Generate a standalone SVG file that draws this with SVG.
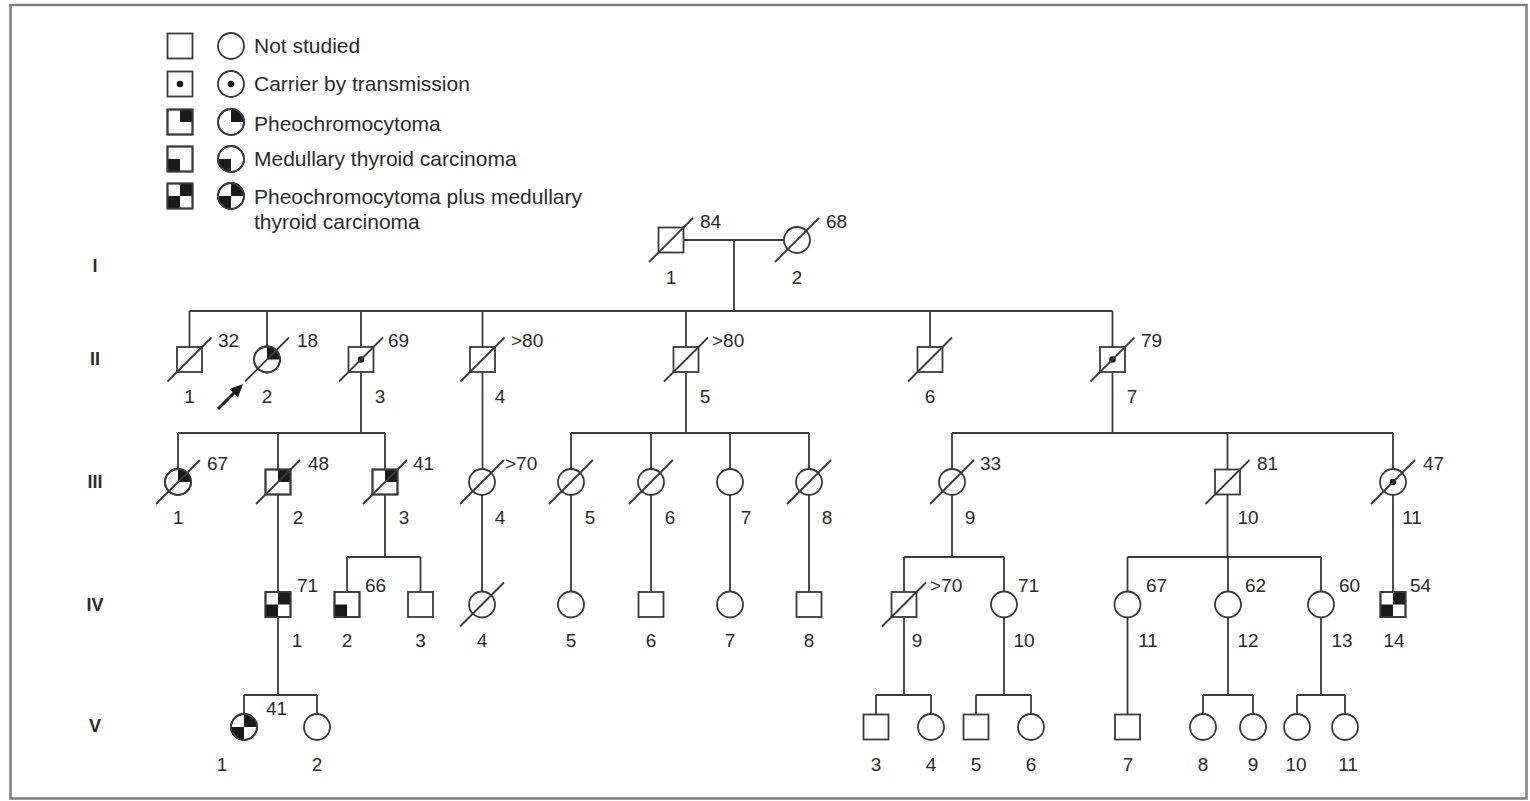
<svg xmlns="http://www.w3.org/2000/svg" width="1530" height="801" viewBox="0 0 1530 801">
<style>
.ln{fill:none;stroke:#3a3a3a;stroke-width:1.8}
.sh{fill:#fff;stroke:#3a3a3a;stroke-width:1.8}
.blk{fill:#1a1a1a;stroke:none}
.t{font-family:"Liberation Sans",Arial,sans-serif;font-size:19px;fill:#2a2a2a}
.lg{font-family:"Liberation Sans",Arial,sans-serif;font-size:21px;fill:#2a2a2a}
.gen{font-family:"Liberation Sans",Arial,sans-serif;font-size:18px;font-weight:bold;fill:#2a2a2a;text-anchor:middle}
.m{text-anchor:middle}
</style>
<defs>
<rect id="sq" x="-12.5" y="-12.5" width="25" height="25" class="sh"/>
<circle id="ci" r="13" class="sh"/>
<line id="sl" x1="-22" y1="22" x2="22" y2="-22" class="ln"/>
<circle id="dot" r="3.3" class="blk"/>
<rect id="sqTR" x="0" y="-12.5" width="12.5" height="12.5" class="blk"/>
<rect id="sqBL" x="-12.5" y="0" width="12.5" height="12.5" class="blk"/>
<path id="ciTR" d="M0,0 L0,-13 A13,13 0 0 1 13,0 Z" class="blk"/>
<path id="ciBL" d="M0,0 L0,13 A13,13 0 0 1 -13,0 Z" class="blk"/>
<rect id="sqO" x="-12.5" y="-12.5" width="25" height="25" fill="none" stroke="#3a3a3a" stroke-width="1.8"/>
<circle id="ciO" r="13" fill="none" stroke="#3a3a3a" stroke-width="1.8"/>
</defs>
<rect x="0" y="0" width="1530" height="801" fill="#fff"/>
<rect x="10.5" y="5" width="1516" height="793.5" fill="none" stroke="#808080" stroke-width="2.5"/>

<g id="legend">
<use href="#sq" x="180" y="46"/><use href="#ci" x="231" y="46"/>
<text class="lg" x="254" y="53">Not studied</text>
<use href="#sq" x="180" y="84"/><use href="#dot" x="180" y="84"/><use href="#ci" x="231" y="84"/><use href="#dot" x="231" y="84"/>
<text class="lg" x="254" y="91">Carrier by transmission</text>
<use href="#sq" x="180" y="122"/><use href="#sqTR" x="180" y="122"/><use href="#sqO" x="180" y="122"/>
<use href="#ci" x="231" y="122"/><use href="#ciTR" x="231" y="122"/><use href="#ciO" x="231" y="122"/>
<text class="lg" x="254" y="131">Pheochromocytoma</text>
<use href="#sq" x="180" y="159"/><use href="#sqBL" x="180" y="159"/><use href="#sqO" x="180" y="159"/>
<use href="#ci" x="231" y="159"/><use href="#ciBL" x="231" y="159"/><use href="#ciO" x="231" y="159"/>
<text class="lg" x="254" y="166">Medullary thyroid carcinoma</text>
<use href="#sq" x="180" y="196"/><use href="#sqTR" x="180" y="196"/><use href="#sqBL" x="180" y="196"/><use href="#sqO" x="180" y="196"/>
<use href="#ci" x="231" y="196"/><use href="#ciTR" x="231" y="196"/><use href="#ciBL" x="231" y="196"/><use href="#ciO" x="231" y="196"/>
<text class="lg" x="254" y="204">Pheochromocytoma plus medullary</text>
<text class="lg" x="254" y="229">thyroid carcinoma</text>
</g>

<g id="generations">
<text class="gen" x="95" y="272">I</text>
<text class="gen" x="95" y="365">II</text>
<text class="gen" x="95" y="488">III</text>
<text class="gen" x="95" y="611">IV</text>
<text class="gen" x="95" y="732">V</text>
</g>

<g id="connectors">
<path class="ln" d="M683.5 240 H784 M734 240 V311"/>
<path class="ln" d="M189.5 311 H1112.5 M189.5 311 V347 M267 311 V346.5 M361 311 V347 M482.5 311 V347 M686 311 V347 M930 311 V347 M1112.5 311 V347"/>
<path class="ln" d="M361 372 V433 M178 433 H385 M178 433 V469 M278 433 V469.5 M385 433 V469.5"/>
<path class="ln" d="M482.5 372 V469"/>
<path class="ln" d="M686 372 V433 M571 433 H809 M571 433 V469 M651 433 V469 M730 433 V469 M809 433 V469"/>
<path class="ln" d="M1112.5 372 V433 M952 433 H1393 M952 433 V469 M1227.5 433 V469.5 M1393 433 V469"/>
<path class="ln" d="M278 494.5 V592 M278 617 V695 M244 695 H317 M244 695 V714 M317 695 V714"/>
<path class="ln" d="M385 494.5 V557 M347 557 H420.5 M347 557 V592 M420.5 557 V592"/>
<path class="ln" d="M482 495 V591.5 M571 495 V591.5 M651 495 V592 M730 495 V591.5 M809 495 V592"/>
<path class="ln" d="M952 495 V557 M904 557 H1004 M904 557 V592 M1004 557 V591.5"/>
<path class="ln" d="M1227.5 494.5 V557 M1127.5 557 H1321 M1127.5 557 V591.5 M1228 557 V591.5 M1321 557 V591.5"/>
<path class="ln" d="M1393 495 V592"/>
<path class="ln" d="M904 617 V695 M876 695 H931 M876 695 V714.5 M931 695 V714"/>
<path class="ln" d="M1004 617.5 V695 M976 695 H1031 M976 695 V714.5 M1031 695 V714"/>
<path class="ln" d="M1127.5 617.5 V714.5"/>
<path class="ln" d="M1228 617.5 V695 M1203 695 H1253 M1203 695 V714 M1253 695 V714"/>
<path class="ln" d="M1321 617.5 V695 M1297 695 H1345 M1297 695 V714 M1345 695 V714"/>
</g>

<g id="proband-arrow">
<line x1="218" y1="409" x2="235" y2="392" stroke="#1a1a1a" stroke-width="3"/>
<polygon points="243,384 238,397.5 229.5,389" fill="#1a1a1a"/>
</g>

<g id="I-1"><use href="#sq" x="671" y="240"/><use href="#sl" x="671" y="240"/><text class="t" x="700" y="228">84</text><text class="t m" x="671" y="284">1</text></g>
<g id="I-2"><use href="#ci" x="797" y="240"/><use href="#sl" x="797" y="240"/><text class="t" x="826" y="228">68</text><text class="t m" x="797" y="284">2</text></g>

<g id="II-1"><use href="#sq" x="189.5" y="359.5"/><use href="#sl" x="189.5" y="359.5"/><text class="t" x="218" y="347">32</text><text class="t m" x="189.5" y="403">1</text></g>
<g id="II-2"><use href="#ci" x="267" y="359.5"/><use href="#ciTR" x="267" y="359.5"/><use href="#ciO" x="267" y="359.5"/><use href="#sl" x="267" y="359.5"/><text class="t" x="297" y="347">18</text><text class="t m" x="267" y="403">2</text></g>
<g id="II-3"><use href="#sq" x="361" y="359.5"/><use href="#dot" x="361" y="359.5"/><use href="#sl" x="361" y="359.5"/><text class="t" x="388" y="347">69</text><text class="t m" x="380" y="403">3</text></g>
<g id="II-4"><use href="#sq" x="482.5" y="359.5"/><use href="#sl" x="482.5" y="359.5"/><text class="t" x="511" y="347">&gt;80</text><text class="t m" x="500" y="403">4</text></g>
<g id="II-5"><use href="#sq" x="686" y="359.5"/><use href="#sl" x="686" y="359.5"/><text class="t" x="712" y="347">&gt;80</text><text class="t m" x="705" y="403">5</text></g>
<g id="II-6"><use href="#sq" x="930" y="359.5"/><use href="#sl" x="930" y="359.5"/><text class="t m" x="930" y="403">6</text></g>
<g id="II-7"><use href="#sq" x="1112.5" y="359.5"/><use href="#dot" x="1112.5" y="359.5"/><use href="#sl" x="1112.5" y="359.5"/><text class="t" x="1141" y="347">79</text><text class="t m" x="1132" y="403">7</text></g>

<g id="III-1"><use href="#ci" x="178" y="482"/><use href="#ciTR" x="178" y="482"/><use href="#ciO" x="178" y="482"/><use href="#sl" x="178" y="482"/><text class="t" x="207" y="470">67</text><text class="t m" x="178" y="524">1</text></g>
<g id="III-2"><use href="#sq" x="278" y="482"/><use href="#sqTR" x="278" y="482"/><use href="#sqO" x="278" y="482"/><use href="#sl" x="278" y="482"/><text class="t" x="308" y="470">48</text><text class="t m" x="298" y="524">2</text></g>
<g id="III-3"><use href="#sq" x="385" y="482"/><use href="#sqTR" x="385" y="482"/><use href="#sqO" x="385" y="482"/><use href="#sl" x="385" y="482"/><text class="t" x="413" y="470">41</text><text class="t m" x="404" y="524">3</text></g>
<g id="III-4"><use href="#ci" x="482" y="482"/><use href="#sl" x="482" y="482"/><text class="t" x="505" y="470">&gt;70</text><text class="t m" x="500" y="524">4</text></g>
<g id="III-5"><use href="#ci" x="571" y="482"/><use href="#sl" x="571" y="482"/><text class="t m" x="590" y="524">5</text></g>
<g id="III-6"><use href="#ci" x="651" y="482"/><use href="#sl" x="651" y="482"/><text class="t m" x="670" y="524">6</text></g>
<g id="III-7"><use href="#ci" x="730" y="482"/><text class="t m" x="746" y="524">7</text></g>
<g id="III-8"><use href="#ci" x="809" y="482"/><use href="#sl" x="809" y="482"/><text class="t m" x="827" y="524">8</text></g>
<g id="III-9"><use href="#ci" x="952" y="482"/><use href="#sl" x="952" y="482"/><text class="t" x="980" y="470">33</text><text class="t m" x="970" y="524">9</text></g>
<g id="III-10"><use href="#sq" x="1227.5" y="482"/><use href="#sl" x="1227.5" y="482"/><text class="t" x="1257" y="470">81</text><text class="t m" x="1248" y="524">10</text></g>
<g id="III-11"><use href="#ci" x="1393" y="482"/><use href="#dot" x="1393" y="482"/><use href="#sl" x="1393" y="482"/><text class="t" x="1423" y="470">47</text><text class="t m" x="1412" y="524">11</text></g>

<g id="IV-1"><use href="#sq" x="278" y="604.5"/><use href="#sqTR" x="278" y="604.5"/><use href="#sqBL" x="278" y="604.5"/><use href="#sqO" x="278" y="604.5"/><text class="t" x="297" y="592">71</text><text class="t m" x="297" y="647">1</text></g>
<g id="IV-2"><use href="#sq" x="347" y="604.5"/><use href="#sqBL" x="347" y="604.5"/><use href="#sqO" x="347" y="604.5"/><text class="t" x="365" y="592">66</text><text class="t m" x="347" y="647">2</text></g>
<g id="IV-3"><use href="#sq" x="420.5" y="604.5"/><text class="t m" x="420.5" y="647">3</text></g>
<g id="IV-4"><use href="#ci" x="482" y="604.5"/><use href="#sl" x="482" y="604.5"/><text class="t m" x="482" y="647">4</text></g>
<g id="IV-5"><use href="#ci" x="571" y="604.5"/><text class="t m" x="571" y="647">5</text></g>
<g id="IV-6"><use href="#sq" x="651" y="604.5"/><text class="t m" x="651" y="647">6</text></g>
<g id="IV-7"><use href="#ci" x="730" y="604.5"/><text class="t m" x="730" y="647">7</text></g>
<g id="IV-8"><use href="#sq" x="809" y="604.5"/><text class="t m" x="809" y="647">8</text></g>
<g id="IV-9"><use href="#sq" x="904" y="604.5"/><use href="#sl" x="904" y="604.5"/><text class="t" x="930" y="592">&gt;70</text><text class="t m" x="917" y="647">9</text></g>
<g id="IV-10"><use href="#ci" x="1004" y="604.5"/><text class="t" x="1018" y="592">71</text><text class="t m" x="1024" y="647">10</text></g>
<g id="IV-11"><use href="#ci" x="1127.5" y="604.5"/><text class="t" x="1146" y="592">67</text><text class="t m" x="1148" y="647">11</text></g>
<g id="IV-12"><use href="#ci" x="1228" y="604.5"/><text class="t" x="1245" y="592">62</text><text class="t m" x="1248" y="647">12</text></g>
<g id="IV-13"><use href="#ci" x="1321" y="604.5"/><text class="t" x="1339" y="592">60</text><text class="t m" x="1342" y="647">13</text></g>
<g id="IV-14"><use href="#sq" x="1393" y="604.5"/><use href="#sqTR" x="1393" y="604.5"/><use href="#sqBL" x="1393" y="604.5"/><use href="#sqO" x="1393" y="604.5"/><text class="t" x="1410" y="592">54</text><text class="t m" x="1394" y="647">14</text></g>

<g id="V-1"><use href="#ci" x="244" y="727"/><use href="#ciTR" x="244" y="727"/><use href="#ciBL" x="244" y="727"/><use href="#ciO" x="244" y="727"/><text class="t" x="266" y="715">41</text><text class="t m" x="222" y="771">1</text></g>
<g id="V-2"><use href="#ci" x="317" y="727"/><text class="t m" x="317" y="771">2</text></g>
<g id="V-3"><use href="#sq" x="876" y="727"/><text class="t m" x="876" y="771">3</text></g>
<g id="V-4"><use href="#ci" x="931" y="727"/><text class="t m" x="931" y="771">4</text></g>
<g id="V-5"><use href="#sq" x="976" y="727"/><text class="t m" x="976" y="771">5</text></g>
<g id="V-6"><use href="#ci" x="1031" y="727"/><text class="t m" x="1031" y="771">6</text></g>
<g id="V-7"><use href="#sq" x="1127.5" y="727"/><text class="t m" x="1128" y="771">7</text></g>
<g id="V-8"><use href="#ci" x="1203" y="727"/><text class="t m" x="1203" y="771">8</text></g>
<g id="V-9"><use href="#ci" x="1253" y="727"/><text class="t m" x="1253" y="771">9</text></g>
<g id="V-10"><use href="#ci" x="1297" y="727"/><text class="t m" x="1296" y="771">10</text></g>
<g id="V-11"><use href="#ci" x="1345" y="727"/><text class="t m" x="1348" y="771">11</text></g>
</svg>
